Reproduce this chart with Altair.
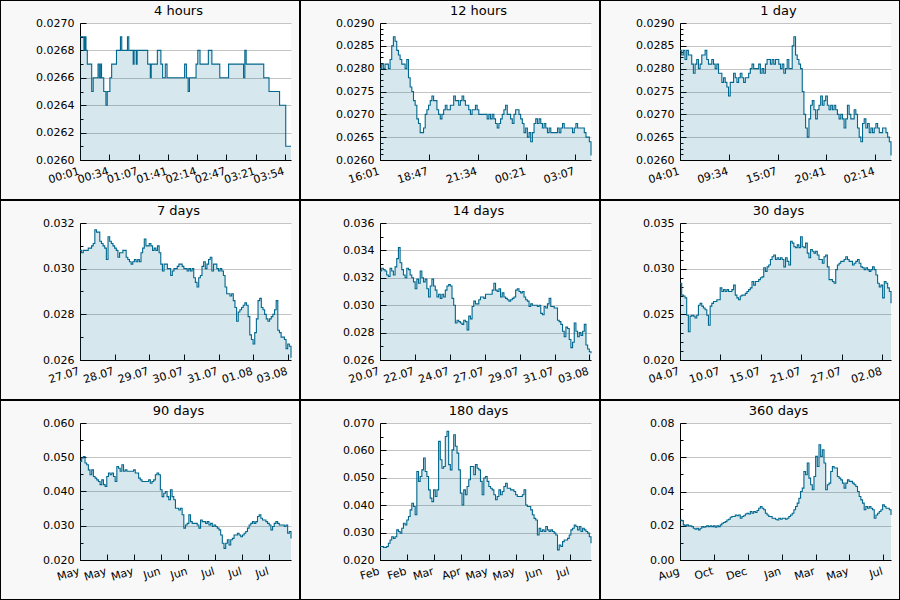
import json
import altair as alt
import pandas as pd

# ---------------- data ----------------
titles = ["4 hours", "12 hours", "1 day", "7 days", "14 days", "30 days",
          "90 days", "180 days", "360 days"]

# x span of each panel (minutes for the first three, days for the rest)
spans = [240, 720, 1440, 7, 14, 30, 90, 180, 360]
tick_steps = [33.3, 166.6, 333.2, 1.15, 2.316, 5.758, 11.53, 23.15, 57.8]

tick_labels = [
    ["00:01", "00:34", "01:07", "01:41", "02:14", "02:47", "03:21", "03:54"],
    ["16:01", "18:47", "21:34", "00:21", "03:07"],
    ["04:01", "09:34", "15:07", "20:41", "02:14"],
    ["27.07", "28.07", "29.07", "30.07", "31.07", "01.08", "03.08"],
    ["20.07", "22.07", "24.07", "27.07", "29.07", "31.07", "03.08"],
    ["04.07", "10.07", "15.07", "21.07", "27.07", "02.08"],
    ["May", "May", "May", "Jun", "Jun", "Jul", "Jul", "Jul"],
    ["Feb", "Feb", "Mar", "Apr", "May", "May", "Jun", "Jul"],
    ["Aug", "Oct", "Dec", "Jan", "Mar", "May", "Jul"],
]

y_domains = [(0.0260, 0.0270), (0.0260, 0.0290), (0.0260, 0.0290),
             (0.026, 0.032), (0.026, 0.036), (0.020, 0.035),
             (0.020, 0.060), (0.020, 0.070), (0.00, 0.08)]
y_major = [0.0002, 0.0005, 0.0005, 0.002, 0.002, 0.005, 0.01, 0.01, 0.02]
y_minor = [0.0001, 0.000125, 0.000125, 0.001, 0.001, 0.001, 0.005, 0.005, 0.01]
y_formats = [".4f", ".4f", ".4f", ".3f", ".3f", ".3f", ".3f", ".3f", ".2f"]

# 4 hours: change points (minutes, price)
t_4h = [0, 4.5, 5.7, 6.8, 8.3, 13.3, 15, 20.5, 22, 23.5, 24.5, 27, 29.5, 31, 34, 36,
        41.5, 46, 47.5, 54, 55.5, 60.5, 61.5, 64, 65, 77, 80, 81, 88, 92, 94, 97, 99,
        119, 121, 123, 124.5, 132, 134, 136.5, 146, 150, 159, 169, 186, 187.5, 189,
        209, 215, 227, 234, 240]
p_4h = [0.0269, 0.0268, 0.0269, 0.0268, 0.0267, 0.0265, 0.0266, 0.0267, 0.0266, 0.0267,
        0.0266, 0.0265, 0.0264, 0.0265, 0.0266, 0.0267, 0.0268, 0.0269, 0.0268, 0.0269,
        0.0268, 0.0267, 0.0268, 0.0267, 0.0268, 0.0267, 0.0266, 0.0267, 0.0268, 0.0267,
        0.0266, 0.0267, 0.0266, 0.0267, 0.0266, 0.0265, 0.0266, 0.0267, 0.0268, 0.0267,
        0.0268, 0.0267, 0.0266, 0.0267, 0.0266, 0.0268, 0.0267, 0.0266, 0.0265, 0.0264,
        0.0261, 0.0261]

p_12h = [0.0280, 0.0281, 0.0280, 0.0281, 0.0281, 0.0280, 0.0282, 0.0285, 0.0287, 0.0286,
         0.0284, 0.0283, 0.0282, 0.0281, 0.0281, 0.0280, 0.0282, 0.0278, 0.0276, 0.0275,
         0.0273, 0.0272, 0.0269, 0.0268, 0.0266, 0.0266, 0.0267, 0.0270, 0.0271, 0.0272,
         0.0273, 0.0274, 0.0273, 0.0273, 0.0271, 0.0270, 0.0269, 0.0270, 0.0271, 0.0272,
         0.0271, 0.0271, 0.0272, 0.0272, 0.0274, 0.0273, 0.0273, 0.0272, 0.0273, 0.0274,
         0.0273, 0.0272, 0.0272, 0.0271, 0.0270, 0.0271, 0.0271, 0.0272, 0.0271, 0.0270,
         0.0270, 0.0270, 0.0270, 0.0270, 0.0269, 0.0270, 0.0269, 0.0270, 0.0269, 0.0268,
         0.0267, 0.0268, 0.0269, 0.0270, 0.0271, 0.0272, 0.0270, 0.0270, 0.0269, 0.0268,
         0.0270, 0.0271, 0.0271, 0.0270, 0.0269, 0.0268, 0.0266, 0.0267, 0.0265, 0.0266,
         0.0264, 0.0266, 0.0268, 0.0269, 0.0268, 0.0269, 0.0268, 0.0267, 0.0268, 0.0267,
         0.0266, 0.0267, 0.0266, 0.0266, 0.0266, 0.0266, 0.0267, 0.0266, 0.0267, 0.0268,
         0.0267, 0.0267, 0.0267, 0.0267, 0.0267, 0.0266, 0.0267, 0.0268, 0.0267, 0.0267,
         0.0267, 0.0267, 0.0266, 0.0265, 0.0265, 0.0264, 0.0261]

p_1d = [0.0284, 0.0283, 0.0284, 0.0282, 0.0284, 0.0283, 0.0283, 0.0281, 0.0279, 0.0281,
        0.0282, 0.0280, 0.0281, 0.0283, 0.0283, 0.0284, 0.0282, 0.0281, 0.0281, 0.0282,
        0.0281, 0.0280, 0.0281, 0.0279, 0.0279, 0.0277, 0.0278, 0.0277, 0.0276, 0.0274,
        0.0277, 0.0277, 0.0279, 0.0278, 0.0277, 0.0278, 0.0279, 0.0278, 0.0277, 0.0278,
        0.0278, 0.0279, 0.0280, 0.0281, 0.0280, 0.0280, 0.0280, 0.0281, 0.0279, 0.0280,
        0.0279, 0.0281, 0.0282, 0.0282, 0.0281, 0.0282, 0.0281, 0.0282, 0.0282, 0.0281,
        0.0280, 0.0281, 0.0279, 0.0280, 0.0282, 0.0280, 0.0280, 0.0285, 0.0287, 0.0283,
        0.0282, 0.0281, 0.0280, 0.0275, 0.0270, 0.0267, 0.0265, 0.0269, 0.0272, 0.0273,
        0.0271, 0.0269, 0.0271, 0.0272, 0.0274, 0.0272, 0.0273, 0.0274, 0.0272, 0.0271,
        0.0272, 0.0271, 0.0272, 0.0271, 0.0270, 0.0269, 0.0270, 0.0269, 0.0267, 0.0269,
        0.0272, 0.0270, 0.0269, 0.0269, 0.0271, 0.0270, 0.0267, 0.0265, 0.0264, 0.0268,
        0.0269, 0.0267, 0.0268, 0.0266, 0.0267, 0.0266, 0.0267, 0.0268, 0.0267, 0.0266,
        0.0266, 0.0267, 0.0267, 0.0266, 0.0265, 0.0264, 0.0261]

p_7d = [0.0308, 0.0307, 0.0308, 0.0308, 0.0308, 0.0309, 0.0309, 0.0310, 0.0311, 0.0317,
        0.0316, 0.0316, 0.0312, 0.0311, 0.0310, 0.0309, 0.0304, 0.0314, 0.0312, 0.0311,
        0.0310, 0.0309, 0.0308, 0.0305, 0.0307, 0.0307, 0.0308, 0.0308, 0.0305, 0.0304,
        0.0303, 0.0302, 0.0303, 0.0304, 0.0303, 0.0304, 0.0303, 0.0307, 0.0309, 0.0313,
        0.0310, 0.0310, 0.0311, 0.0310, 0.0308, 0.0309, 0.0308, 0.0310, 0.0307, 0.0302,
        0.0299, 0.0302, 0.0302, 0.0300, 0.0300, 0.0297, 0.0299, 0.0300, 0.0300, 0.0301,
        0.0302, 0.0302, 0.0301, 0.0300, 0.0300, 0.0299, 0.0300, 0.0299, 0.0300, 0.0296,
        0.0294, 0.0292, 0.0296, 0.0297, 0.0301, 0.0303, 0.0300, 0.0302, 0.0304, 0.0305,
        0.0299, 0.0302, 0.0302, 0.0300, 0.0299, 0.0300, 0.0299, 0.0297, 0.0292, 0.0289,
        0.0289, 0.0288, 0.0289, 0.0286, 0.0283, 0.0277, 0.0281, 0.0282, 0.0283, 0.0284,
        0.0285, 0.0284, 0.0279, 0.0271, 0.0269, 0.0267, 0.0272, 0.0278, 0.0286, 0.0287,
        0.0283, 0.0282, 0.0280, 0.0278, 0.0277, 0.0278, 0.0279, 0.0280, 0.0282, 0.0286,
        0.0273, 0.0272, 0.0270, 0.0270, 0.0269, 0.0265, 0.0267, 0.0266, 0.0261]

p_14d = [0.0325, 0.0327, 0.0326, 0.0325, 0.0322, 0.0321, 0.0327, 0.0325, 0.0322, 0.0328,
         0.0334, 0.0342, 0.0331, 0.0326, 0.0322, 0.0320, 0.0327, 0.0326, 0.0322, 0.0320,
         0.0317, 0.0312, 0.0319, 0.0316, 0.0325, 0.0320, 0.0317, 0.0319, 0.0312, 0.0306,
         0.0314, 0.0319, 0.0314, 0.0311, 0.0306, 0.0308, 0.0305, 0.0308, 0.0306, 0.0311,
         0.0314, 0.0315, 0.0314, 0.0305, 0.0300, 0.0287, 0.0289, 0.0288, 0.0287, 0.0286,
         0.0289, 0.0288, 0.0282, 0.0292, 0.0290, 0.0299, 0.0303, 0.0301, 0.0301, 0.0304,
         0.0306, 0.0306, 0.0305, 0.0308, 0.0308, 0.0308, 0.0308, 0.0311, 0.0316, 0.0311,
         0.0310, 0.0312, 0.0306, 0.0309, 0.0306, 0.0305, 0.0304, 0.0303, 0.0304, 0.0305,
         0.0306, 0.0311, 0.0312, 0.0310, 0.0309, 0.0310, 0.0306, 0.0304, 0.0303, 0.0299,
         0.0301, 0.0300, 0.0300, 0.0300, 0.0299, 0.0300, 0.0294, 0.0293, 0.0299, 0.0298,
         0.0301, 0.0305, 0.0299, 0.0299, 0.0298, 0.0298, 0.0289, 0.0288, 0.0286, 0.0281,
         0.0277, 0.0284, 0.0283, 0.0275, 0.0269, 0.0273, 0.0287, 0.0281, 0.0277, 0.0280,
         0.0278, 0.0281, 0.0286, 0.0271, 0.0268, 0.0266, 0.0265]

p_30d = [0.0284, 0.0271, 0.0270, 0.0268, 0.0249, 0.0231, 0.0248, 0.0249, 0.0248, 0.0246,
         0.0249, 0.0260, 0.0262, 0.0259, 0.0257, 0.0255, 0.0249, 0.0238, 0.0259, 0.0262,
         0.0264, 0.0264, 0.0266, 0.0266, 0.0279, 0.0275, 0.0277, 0.0275, 0.0277, 0.0275,
         0.0275, 0.0277, 0.0282, 0.0271, 0.0268, 0.0266, 0.0270, 0.0271, 0.0271, 0.0273,
         0.0275, 0.0277, 0.0279, 0.0286, 0.0282, 0.0286, 0.0286, 0.0288, 0.0290, 0.0291,
         0.0301, 0.0297, 0.0302, 0.0304, 0.0310, 0.0313, 0.0315, 0.0310, 0.0312, 0.0310,
         0.0312, 0.0310, 0.0302, 0.0312, 0.0308, 0.0304, 0.0330, 0.0328, 0.0324, 0.0323,
         0.0326, 0.0323, 0.0335, 0.0324, 0.0323, 0.0328, 0.0317, 0.0312, 0.0321, 0.0319,
         0.0317, 0.0319, 0.0315, 0.0310, 0.0310, 0.0306, 0.0313, 0.0315, 0.0302, 0.0288,
         0.0288, 0.0286, 0.0284, 0.0299, 0.0304, 0.0306, 0.0308, 0.0308, 0.0310, 0.0313,
         0.0310, 0.0308, 0.0308, 0.0304, 0.0306, 0.0308, 0.0310, 0.0306, 0.0302, 0.0301,
         0.0299, 0.0301, 0.0299, 0.0297, 0.0299, 0.0302, 0.0299, 0.0293, 0.0284, 0.0280,
         0.0282, 0.0268, 0.0286, 0.0284, 0.0279, 0.0275, 0.0262]

p_90d = [0.0488, 0.0498, 0.0502, 0.0483, 0.0478, 0.0463, 0.0449, 0.0463, 0.0444, 0.0439,
         0.0434, 0.0429, 0.0420, 0.0434, 0.0420, 0.0415, 0.0444, 0.0454, 0.0449, 0.0454,
         0.0444, 0.0429, 0.0473, 0.0468, 0.0459, 0.0478, 0.0459, 0.0463, 0.0459, 0.0459,
         0.0459, 0.0459, 0.0463, 0.0454, 0.0454, 0.0439, 0.0434, 0.0429, 0.0429, 0.0429,
         0.0429, 0.0434, 0.0424, 0.0429, 0.0434, 0.0449, 0.0454, 0.0449, 0.0405, 0.0385,
         0.0395, 0.0400, 0.0385, 0.0376, 0.0405, 0.0385, 0.0376, 0.0351, 0.0351, 0.0346,
         0.0351, 0.0332, 0.0293, 0.0302, 0.0307, 0.0332, 0.0312, 0.0307, 0.0307, 0.0307,
         0.0302, 0.0293, 0.0317, 0.0312, 0.0312, 0.0307, 0.0312, 0.0302, 0.0307, 0.0298,
         0.0302, 0.0298, 0.0293, 0.0288, 0.0273, 0.0249, 0.0234, 0.0249, 0.0259, 0.0244,
         0.0259, 0.0263, 0.0273, 0.0273, 0.0278, 0.0273, 0.0268, 0.0273, 0.0278, 0.0283,
         0.0293, 0.0302, 0.0307, 0.0312, 0.0307, 0.0312, 0.0327, 0.0332, 0.0322, 0.0317,
         0.0317, 0.0312, 0.0307, 0.0302, 0.0288, 0.0298, 0.0307, 0.0312, 0.0307, 0.0302,
         0.0302, 0.0302, 0.0298, 0.0302, 0.0278, 0.0283, 0.0263]

p_180d = [0.0249, 0.0249, 0.0246, 0.0246, 0.0249, 0.0261, 0.0273, 0.0285, 0.0279, 0.0285,
          0.0310, 0.0304, 0.0298, 0.0316, 0.0334, 0.0328, 0.0346, 0.0359, 0.0383, 0.0407,
          0.0395, 0.0365, 0.0523, 0.0487, 0.0505, 0.0529, 0.0572, 0.0523, 0.0505, 0.0456,
          0.0426, 0.0413, 0.0456, 0.0432, 0.0456, 0.0633, 0.0566, 0.0535, 0.0541, 0.0651,
          0.0670, 0.0548, 0.0529, 0.0602, 0.0657, 0.0615, 0.0590, 0.0529, 0.0444, 0.0401,
          0.0456, 0.0438, 0.0468, 0.0493, 0.0541, 0.0541, 0.0511, 0.0548, 0.0535, 0.0529,
          0.0487, 0.0438, 0.0499, 0.0505, 0.0487, 0.0468, 0.0462, 0.0456, 0.0438, 0.0420,
          0.0432, 0.0456, 0.0438, 0.0450, 0.0468, 0.0480, 0.0462, 0.0462, 0.0456, 0.0456,
          0.0450, 0.0438, 0.0432, 0.0432, 0.0432, 0.0438, 0.0456, 0.0401, 0.0395, 0.0395,
          0.0383, 0.0365, 0.0352, 0.0346, 0.0291, 0.0316, 0.0304, 0.0310, 0.0304, 0.0322,
          0.0310, 0.0304, 0.0310, 0.0304, 0.0298, 0.0291, 0.0237, 0.0255, 0.0249, 0.0267,
          0.0273, 0.0273, 0.0279, 0.0291, 0.0310, 0.0316, 0.0328, 0.0322, 0.0310, 0.0322,
          0.0304, 0.0316, 0.0310, 0.0304, 0.0298, 0.0285, 0.0261]

p_360d = [0.0234, 0.0230, 0.0205, 0.0199, 0.0205, 0.0199, 0.0199, 0.0195, 0.0185, 0.0180,
          0.0185, 0.0176, 0.0185, 0.0195, 0.0191, 0.0195, 0.0199, 0.0195, 0.0199, 0.0195,
          0.0199, 0.0191, 0.0199, 0.0195, 0.0205, 0.0215, 0.0219, 0.0224, 0.0234, 0.0238,
          0.0250, 0.0254, 0.0254, 0.0263, 0.0258, 0.0263, 0.0244, 0.0254, 0.0258, 0.0269,
          0.0273, 0.0269, 0.0283, 0.0273, 0.0283, 0.0277, 0.0289, 0.0302, 0.0312, 0.0302,
          0.0293, 0.0273, 0.0263, 0.0254, 0.0254, 0.0244, 0.0244, 0.0238, 0.0234, 0.0244,
          0.0238, 0.0244, 0.0244, 0.0238, 0.0244, 0.0254, 0.0263, 0.0273, 0.0293, 0.0312,
          0.0332, 0.0361, 0.0400, 0.0420, 0.0517, 0.0498, 0.0566, 0.0478, 0.0439, 0.0410,
          0.0488, 0.0605, 0.0546, 0.0673, 0.0605, 0.0644, 0.0566, 0.0410, 0.0439, 0.0449,
          0.0517, 0.0546, 0.0537, 0.0537, 0.0488, 0.0478, 0.0468, 0.0449, 0.0420, 0.0449,
          0.0468, 0.0459, 0.0459, 0.0449, 0.0439, 0.0429, 0.0400, 0.0371, 0.0351, 0.0332,
          0.0293, 0.0312, 0.0302, 0.0312, 0.0302, 0.0293, 0.0244, 0.0263, 0.0273, 0.0283,
          0.0293, 0.0322, 0.0312, 0.0302, 0.0302, 0.0293, 0.0263]

uniform_series = [None, p_12h, p_1d, p_7d, p_14d, p_30d, p_90d, p_180d, p_360d]

# ---------------- style / layout ----------------
LINE = "#00678e"
GRID = "#c4c4c4"
FONT = "DejaVu Sans"
PANEL_W, PANEL_H = 300, 200
PLOT_LEFT = 80
PLOT_TOP = 23
PLOT_W = 211
PLOT_H = 137
TITLE_BASELINE = 15
LABEL_SIZE = 11


def series_frame(i):
    if i == 0:
        return pd.DataFrame({"t": t_4h, "v": p_4h})
    vals = uniform_series[i]
    n = len(vals)
    xs = [k * spans[i] / (n - 1) for k in range(n)]
    return pd.DataFrame({"t": xs, "v": vals})


def panel(i):
    df = series_frame(i)
    top = PLOT_TOP
    h = PLOT_H
    w = PLOT_W
    lo, hi = y_domains[i]
    nmaj = int(round((hi - lo) / y_major[i]))
    majors = [round(lo + k * y_major[i], 7) for k in range(nmaj + 1)]
    r = int(round(y_major[i] / y_minor[i]))
    nmin = nmaj * r
    minors = [round(lo + k * y_minor[i], 7) for k in range(nmin + 1) if k % r != 0]
    labels = tick_labels[i]
    step = tick_steps[i]
    xticks = [round(k * step, 6) for k in range(len(labels))]
    label_expr = f"{json.dumps(labels)}[round(datum.value / {step})]"

    xsc = alt.Scale(domain=[0, spans[i]], nice=False, zero=False)
    ysc = alt.Scale(domain=[lo, hi], nice=False, zero=False)

    base = alt.Chart(df)
    area = base.mark_area(interpolate="step-after", color=LINE, fillOpacity=0.16).encode(
        x=alt.X("t:Q", scale=xsc, axis=alt.Axis(
            orient="bottom", values=xticks, labelExpr=label_expr, title=None,
            grid=False, ticks=False, domain=True, domainColor="black", domainWidth=1,
            labelAngle=343, labelAlign="right", labelBaseline="top", labelPadding=5,
            labelOffset=-3, labelOverlap=False, labelFlush=False, labelFont=FONT,
            labelFontSize=LABEL_SIZE, labelColor="black")),
        y=alt.Y("v:Q", scale=ysc, axis=alt.Axis(
            orient="left", values=majors, format=y_formats[i], title=None,
            grid=True, gridColor=GRID, gridWidth=1, ticks=False, domain=True,
            domainColor="black", domainWidth=1, labelPadding=6, labelOverlap=False,
            labelFlush=False, labelFont=FONT, labelFontSize=LABEL_SIZE, labelColor="black")),
        y2=alt.datum(lo),
    )
    line = base.mark_line(interpolate="step-after", color=LINE, strokeWidth=1.1).encode(
        x=alt.X("t:Q", scale=xsc, axis=alt.Axis(
            orient="top", offset=-h, values=xticks, labels=False, title=None,
            grid=False, domain=False, ticks=True, tickSize=6, tickColor="black", tickWidth=1)),
        y=alt.Y("v:Q", scale=ysc, axis=alt.Axis(
            orient="right", offset=-w, values=majors, labels=False, title=None,
            grid=False, domain=False, ticks=True, tickSize=6, tickColor="black", tickWidth=1)),
    )
    ghost = base.mark_point(opacity=0).encode(
        x=alt.X("t:Q", scale=xsc, axis=None),
        y=alt.Y("v:Q", scale=ysc, axis=alt.Axis(
            orient="right", offset=-w, values=minors, labels=False, title=None,
            grid=False, domain=False, ticks=True, tickSize=3, tickColor="black", tickWidth=1)),
    )

    one = alt.Chart(pd.DataFrame({"k": [0]}))
    x0, x1 = -PLOT_LEFT, PANEL_W - PLOT_LEFT
    y0, y1 = -top, PANEL_H - top
    strips = [
        one.mark_rect(color="black").encode(x=alt.value(x0), x2=alt.value(x0 + 1),
                                            y=alt.value(y0), y2=alt.value(y1)),
        one.mark_rect(color="black").encode(x=alt.value(x1 - 1), x2=alt.value(x1),
                                            y=alt.value(y0), y2=alt.value(y1)),
        one.mark_rect(color="black").encode(x=alt.value(x0), x2=alt.value(x1),
                                            y=alt.value(y0), y2=alt.value(y0 + 1)),
        one.mark_rect(color="black").encode(x=alt.value(x0), x2=alt.value(x1),
                                            y=alt.value(y1 - 1), y2=alt.value(y1)),
    ]
    # panel title drawn inside the panel frame
    title = one.mark_text(font=FONT, fontSize=13, color="black", align="center",
                          baseline="alphabetic").encode(
        x=alt.value(w / 2 - 7), y=alt.value(TITLE_BASELINE - top),
        text=alt.value(titles[i]))

    return alt.layer(area, line, ghost, *strips, title).resolve_axis(
        x="independent", y="independent"
    ).properties(width=w, height=h)


chart = alt.concat(
    *[panel(i) for i in range(9)], columns=3, bounds="flush",
    spacing=alt.RowColnumber(row=PANEL_H - PLOT_H, column=PANEL_W - PLOT_W),
).properties(
    padding=0, background="#f8f8f8"
).configure(
    font=FONT, view=alt.ViewConfig(fill="white", strokeWidth=0)
)

chart.save("out.html", embed_options={"renderer": "svg", "actions": False})
